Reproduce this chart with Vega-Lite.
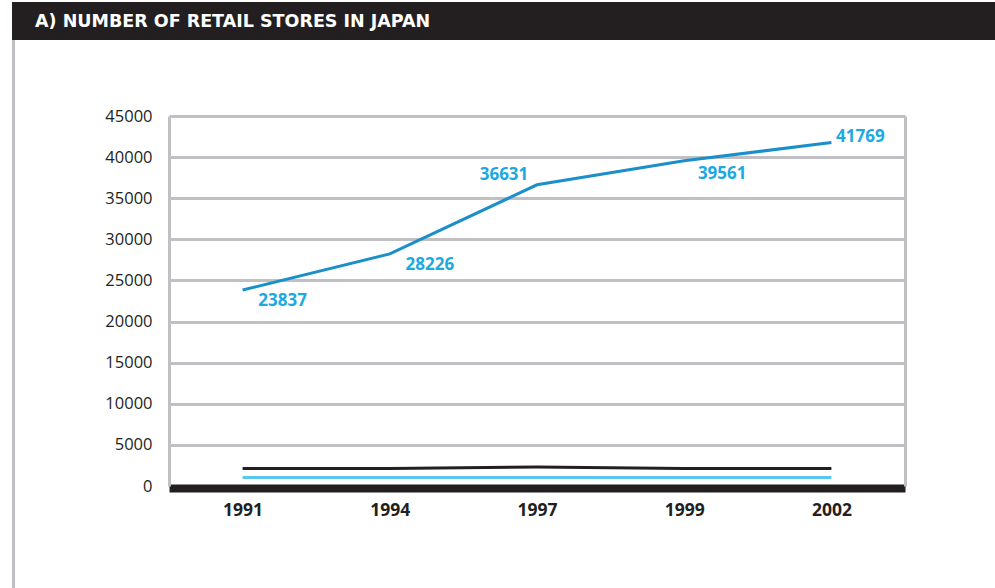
{
  "$schema": "https://vega.github.io/schema/vega-lite/v6.json",
  "padding": {"left": 12, "top": 2, "right": 0, "bottom": 0},
  "background": "white",
  "spacing": 0,
  "config": {"concat": {"spacing": 0}, "font": "Open Sans", "view": {"stroke": null}},
  "vconcat": [
    {
      "width": 983,
      "height": 38,
      "view": {"fill": "#231f20", "stroke": null},
      "title": {"text": "A) NUMBER OF RETAIL STORES IN JAPAN", "anchor": "start", "frame": "group", "orient": "top", "offset": -42, "dx": 23, "baseline": "alphabetic", "color": "#ffffff", "fontSize": 17.5, "fontWeight": "bold", "font": "DejaVu Sans"},
      "data": {"values": []},
      "mark": "rect",
      "encoding": {}
    },
    {
      "spacing": 0,
      "hconcat": [
        {
          "width": 3,
          "height": 548,
          "view": {"fill": "#c0bfc4", "stroke": null},
          "data": {"values": []},
          "mark": "rect",
          "encoding": {}
        },
        {
          "width": 736,
          "height": 446,
          "data": {"values": [
            {"year": 1991, "series": "A", "stores": 23837},
            {"year": 1994, "series": "A", "stores": 28226},
            {"year": 1997, "series": "A", "stores": 36631},
            {"year": 1999, "series": "A", "stores": 39561},
            {"year": 2002, "series": "A", "stores": 41769},
            {"year": 1991, "series": "B", "stores": 2130},
            {"year": 1994, "series": "B", "stores": 2130},
            {"year": 1997, "series": "B", "stores": 2320},
            {"year": 1999, "series": "B", "stores": 2130},
            {"year": 2002, "series": "B", "stores": 2130},
            {"year": 1991, "series": "C", "stores": 1040},
            {"year": 1994, "series": "C", "stores": 1040},
            {"year": 1997, "series": "C", "stores": 1040},
            {"year": 1999, "series": "C", "stores": 1040},
            {"year": 2002, "series": "C", "stores": 1040}
          ]},
          "resolve": {"axis": {"y": "independent"}},
          "encoding": {
            "x": {"field": "year", "type": "ordinal", "scale": {"type": "point", "padding": 0.5},
              "axis": {"title": null, "domainColor": "#231f20", "domainWidth": 8, "ticks": false, "grid": false, "labelAngle": 0, "labelFontWeight": "bold", "labelFontSize": 17.5, "labelColor": "#231f20", "labelPadding": 13, "offset": 2}}
          },
          "layer": [
            {
              "mark": {"type": "line", "strokeWidth": 3},
              "encoding": {
                "y": {"field": "stores", "type": "quantitative", "scale": {"domain": [0, 45000], "nice": false, "range": [446, 76]},
                  "axis": {"title": null, "domain": true, "domainColor": "#c0bfc4", "domainWidth": 3, "ticks": false, "grid": true, "gridColor": "#c0bfc4", "gridWidth": 3, "labelFontSize": 16.5, "labelColor": "#231f20", "labelPadding": 17, "format": "d", "values": [0, 5000, 10000, 15000, 20000, 25000, 30000, 35000, 40000, 45000], "minExtent": 154}},
                "color": {"field": "series", "type": "nominal", "scale": {"domain": ["A", "B", "C"], "range": ["#1a8fc9", "#231f20", "#5cc5ee"]}, "legend": null}
              }
            },
            {
              "transform": [{"filter": "datum.series == 'A' && (datum.year == 1991 || datum.year == 1994)"}],
              "mark": {"type": "text", "dx": 40, "dy": 11, "fontSize": 17, "fontWeight": "bold", "color": "#1ba9e1"},
              "encoding": {
                "y": {"field": "stores", "type": "quantitative", "axis": null},
                "text": {"field": "stores", "type": "quantitative", "format": "d"}
              }
            },
            {
              "transform": [{"filter": "datum.series == 'A' && datum.year == 1997"}],
              "mark": {"type": "text", "dx": -33, "dy": -10, "fontSize": 17, "fontWeight": "bold", "color": "#1ba9e1"},
              "encoding": {
                "y": {"field": "stores", "type": "quantitative", "axis": null},
                "text": {"field": "stores", "type": "quantitative", "format": "d"}
              }
            },
            {
              "transform": [{"filter": "datum.series == 'A' && datum.year == 1999"}],
              "mark": {"type": "text", "dx": 38, "dy": 13, "fontSize": 17, "fontWeight": "bold", "color": "#1ba9e1"},
              "encoding": {
                "y": {"field": "stores", "type": "quantitative", "axis": null},
                "text": {"field": "stores", "type": "quantitative", "format": "d"}
              }
            },
            {
              "transform": [{"filter": "datum.series == 'A' && datum.year == 2002"}],
              "mark": {"type": "text", "dx": 29, "dy": -6, "fontSize": 17, "fontWeight": "bold", "color": "#1ba9e1"},
              "encoding": {
                "y": {"field": "stores", "type": "quantitative",
                  "axis": {"orient": "right", "title": null, "domain": true, "domainColor": "#c0bfc4", "domainWidth": 3, "ticks": false, "labels": false, "grid": false}},
                "text": {"field": "stores", "type": "quantitative", "format": "d"}
              }
            }
          ]
        }
      ]
    }
  ]
}
